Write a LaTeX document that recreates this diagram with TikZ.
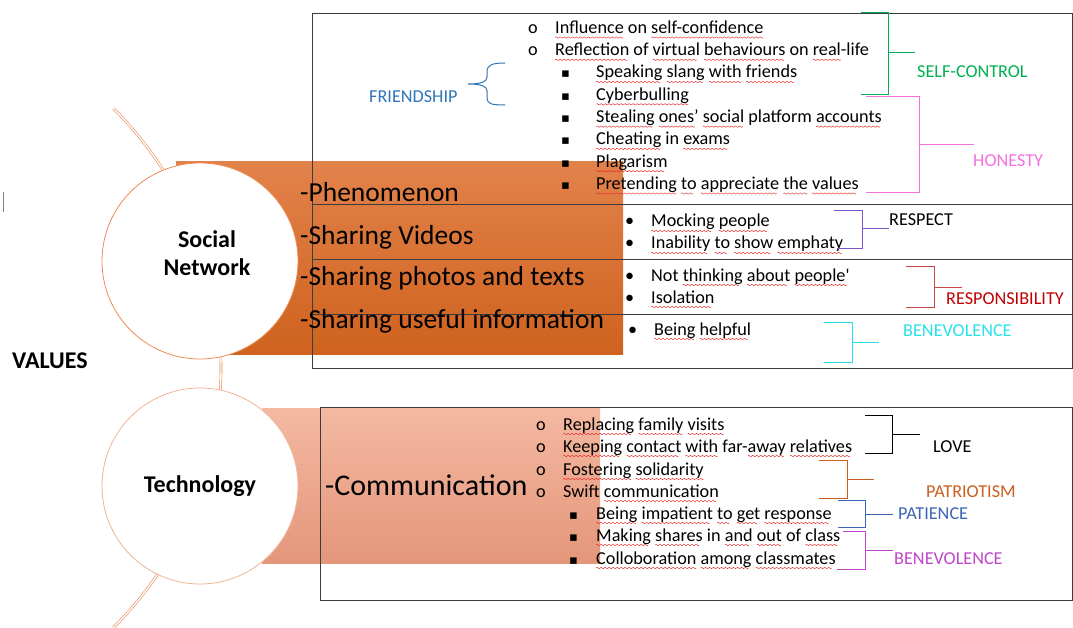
\documentclass[tikz,border=0pt]{standalone}
\usepackage{fontspec}
\setmainfont{Carlito}
\newfontfamily\symfont{DejaVu Sans}
\usepackage{xcolor}
\usepackage{tikz}
\definecolor{snline}{RGB}{237,140,85}
\definecolor{tcline}{RGB}{240,180,150}
\definecolor{snTop}{RGB}{226,130,75}
\definecolor{snBot}{RGB}{207,98,30}
\definecolor{tcTop}{RGB}{244,185,162}
\definecolor{tcBot}{RGB}{228,150,122}
\definecolor{boxline}{RGB}{60,60,60}
\definecolor{spell}{RGB}{230,40,40}
\definecolor{friend}{RGB}{46,117,182}
\definecolor{selfc}{RGB}{0,176,80}
\definecolor{hon}{RGB}{243,112,221}
\definecolor{resp}{RGB}{125,85,200}
\definecolor{rsbline}{RGB}{200,70,70}
\definecolor{rsb}{RGB}{192,0,0}
\definecolor{ben}{RGB}{40,225,235}
\definecolor{patr}{RGB}{200,95,30}
\definecolor{pat}{RGB}{60,100,180}
\definecolor{benb}{RGB}{190,70,200}
% spell-check squiggle
\newsavebox{\wavebox}
\sbox{\wavebox}{\begin{pgfpicture}
    \pgfpathrectangle{\pgfpoint{0pt}{-1pt}}{\pgfpoint{4pt}{2pt}}
    \pgfusepath{use as bounding box}
    \pgfsetbaseline{0pt}
    \pgfsetlinewidth{0.45pt}
    \pgfsetstrokecolor{spell}
    \pgfpathmoveto{\pgfpoint{0pt}{0pt}}
    \pgfpathsine{\pgfpoint{1pt}{0.7pt}}
    \pgfpathcosine{\pgfpoint{1pt}{-0.7pt}}
    \pgfpathsine{\pgfpoint{1pt}{-0.7pt}}
    \pgfpathcosine{\pgfpoint{1pt}{0.7pt}}
    \pgfusepath{stroke}
\end{pgfpicture}}
\newcommand{\wv}[1]{\setbox0\hbox{#1}\rlap{\lower4pt\hbox to \wd0{\leaders\copy\wavebox\hfill}}\box0\relax}

\begin{document}
\begin{tikzpicture}
    [   x=1pt, y=-1pt,
        item/.style={anchor=base west, inner sep=0pt, font=\fontsize{18.2}{22}\selectfont},
        sqb/.style={anchor=base west, inner sep=0pt, font=\symfont\fontsize{13}{13}\selectfont},
        big/.style={anchor=base west, inner sep=0pt, font=\fontsize{27.5}{32}\selectfont},
        hub/.style={circle, fill=white, line width=0.8pt, minimum size=196pt, inner sep=0pt},
        hubtext/.style={align=center, inner sep=0pt, font=\fontsize{24}{28}\selectfont\bfseries},
        brk/.style={line width=1pt},
        box/.style={draw=boxline, line width=0.8pt},
        arcline/.style={draw=snline, double=white, double distance=1.4pt, line width=0.6pt}
    ]
    \useasboundingbox (0,0) rectangle (1073,628);
    % Cursor mark
    \draw[gray] (3,192) -- (3,212);
    % Arc behind the circles
    \draw[arcline] (-146,368) ++(-45:367) arc[start angle=-45, end angle=45, radius=367];
    % Coloured bands
    \shade[top color=snTop, bottom color=snBot] (176,162) rectangle (623,354);
    \shade[top color=tcTop, bottom color=tcBot] (262,408) rectangle (600,563);
    % Boxes
    \draw[box] (312,13) rectangle (1072,368);
    \draw[box] (312,204) -- (1072,204);
    \draw[box] (312,259) -- (1072,259);
    \draw[box] (312,314) -- (1072,314);
    \draw[box] (320,407) rectangle (1072,600);
    % Circles
    \node[hub, draw=snline] (social) at (200,261) {};
    \node[hubtext] (sntext) at (207,253) {Social\\Network};
    \node[hub, draw=tcline] (tech) at (200,486) {};
    \node[hubtext] (tctext) at (200,486) {Technology};
    \node[anchor=base west, inner sep=0pt, font=\fontsize{24}{28}\selectfont\bfseries] (values) at (12,368) {VALUES};
    % Social network topics
    \node[big] (phen) at (300,202) {-Phenomenon};
    \node[big] (vid) at (300,245) {-Sharing Videos};
    \node[big] (pho) at (300,286) {-Sharing photos and texts};
    \node[big] (info) at (300,328) {-Sharing useful information};
    % Social network list
    \node[item] (o1) at (528,33.5) {o};
    \node[item] (o2) at (528,55.8) {o};
    \node[item] (t1) at (555,33.5) {\wv{Influence} on \wv{self-confidence}};
    \node[item] (t2) at (555,55.8) {\wv{Reflection} of \wv{virtual} \wv{behaviours} on \wv{real}-life};
    \node[sqb] (s1) at (561,78) {▪};
    \node[sqb] (s2) at (561,100.3) {▪};
    \node[sqb] (s3) at (561,122.6) {▪};
    \node[sqb] (s4) at (561,144.9) {▪};
    \node[sqb] (s5) at (561,167.2) {▪};
    \node[sqb] (s6) at (561,189.5) {▪};
    \node[item] (t3) at (596,78) {\wv{Speaking} \wv{slang} \wv{with} \wv{friends}};
    \node[item] (t4) at (596,100.3) {\wv{Cyberbulling}};
    \node[item] (t5) at (596,122.6) {\wv{Stealing} \wv{ones’} \wv{social} platform \wv{accounts}};
    \node[item] (t6) at (596,144.9) {\wv{Cheating} in \wv{exams}};
    \node[item] (t7) at (596,167.2) {\wv{Plagarism}};
    \node[item] (t8) at (596,189.5) {\wv{Pretending} \wv{to} \wv{appreciate} \wv{the} \wv{values}};
    \node[item] (d1) at (625,227) {•};
    \node[item] (d2) at (625,249) {•};
    \node[item] (t9) at (651,227) {\wv{Mocking} \wv{people}};
    \node[item] (t10) at (651,249) {\wv{Inability} \wv{to} \wv{show} \wv{emphaty}};
    \node[item] (d3) at (625,281) {•};
    \node[item] (d4) at (625,303) {•};
    \node[item] (t11) at (651,281) {Not \wv{thinking} \wv{about} \wv{people\textquotesingle}};
    \node[item] (t12) at (651,303) {\wv{Isolation}};
    \node[item] (d5) at (628,335) {•};
    \node[item] (t13) at (654,335) {\wv{Being} \wv{helpful}};
    % Technology topic and list
    \node[big, font=\fontsize{30}{35}\selectfont] (comm) at (325,495) {-Communication};
    \node[item] (o3) at (536,430) {o};
    \node[item] (o4) at (536,452) {o};
    \node[item] (o5) at (536,475) {o};
    \node[item] (o6) at (536,497) {o};
    \node[item] (t14) at (563,430) {\wv{Replacing} \wv{family} \wv{visits}};
    \node[item] (t15) at (563,452) {\wv{Keeping} \wv{contact} \wv{with} far-\wv{away} \wv{relatives}};
    \node[item] (t16) at (563,475) {\wv{Fostering} \wv{solidarity}};
    \node[item] (t17) at (563,497) {Swift \wv{communication}};
    \node[sqb] (s7) at (569,519) {▪};
    \node[sqb] (s8) at (569,541) {▪};
    \node[sqb] (s9) at (569,564) {▪};
    \node[item] (t18) at (596,519) {\wv{Being} \wv{impatient} \wv{to} \wv{get} \wv{response}};
    \node[item] (t19) at (596,541) {\wv{Making} \wv{shares} in \wv{and} \wv{out} of \wv{class}};
    \node[item] (t20) at (596,564) {\wv{Colloboration} \wv{among} \wv{classmates}};
    % Friendship
    \draw[brk, friend] (505,63) .. controls (492,63) and (487,65) .. (487,72) -- (487,77)
        .. controls (487,82) and (481,84) .. (468,84)
        .. controls (481,84) and (487,86) .. (487,91) -- (487,98)
        .. controls (487,104) and (492,105) .. (505,105);
    \node[item, text=friend] (friendship) at (369,103) {FRIENDSHIP};
    % Self-control
    \draw[brk, selfc] (861,13) -- (888,13) -- (888,95) -- (861,95) (888,53) -- (915,53);
    \node[item, text=selfc] (selfcontrol) at (917,78) {SELF-CONTROL};
    % Honesty
    \draw[brk, hon] (866,97) -- (919,97) -- (919,193) -- (866,193) (919,145) -- (974,145);
    \node[item, text=hon] (honesty) at (973,167) {HONESTY};
    % Respect
    \draw[brk, resp] (834,211) -- (862,211) -- (862,249) -- (837,249) (862,229) -- (889,229);
    \node[item] (respect) at (889,226) {RESPECT};
    % Responsibility
    \draw[brk, rsbline] (906,267) -- (934,267) -- (934,307) -- (906,307) (934,287) -- (962,287);
    \node[item, text=rsb] (responsibility) at (946,304) {RESPONSIBILITY};
    % Benevolence
    \draw[brk, ben] (824,322) -- (852,322) -- (852,362) -- (824,362) (852,342) -- (879,342);
    \node[item, text=ben] (benevolence) at (903,336) {BENEVOLENCE};
    % Love
    \draw[brk, black] (865,415) -- (892,415) -- (892,453) -- (865,453) (892,434) -- (920,434);
    \node[item] (love) at (933,452) {LOVE};
    % Patriotism
    \draw[brk, patr] (819,460) -- (847,460) -- (847,498) -- (819,498) (847,479) -- (874,479);
    \node[item, text=patr] (patriotism) at (926,497) {PATRIOTISM};
    % Patience
    \draw[brk, pat] (838,500) -- (865,500) -- (865,527) -- (838,527) (865,514) -- (893,514);
    \node[item, text=pat] (patience) at (898,519) {PATIENCE};
    % Benevolence (technology)
    \draw[brk, benb] (843,531) -- (865,531) -- (865,569) -- (837,569) (865,550) -- (893,550);
    \node[item, text=benb] (benevolence2) at (894,564) {BENEVOLENCE};
\end{tikzpicture}
\end{document}
